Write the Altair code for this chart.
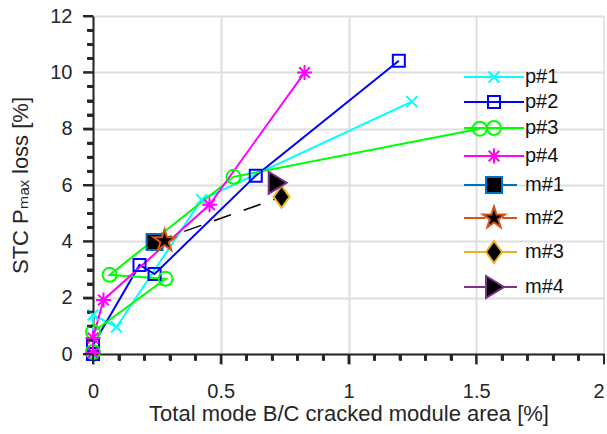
import math
import altair as alt
import pandas as pd

# ---------------- data ----------------
series = ["p#1", "p#2", "p#3", "p#4", "m#1", "m#2", "m#3", "m#4"]
line_colors = ["#00FFFF", "#0000FF", "#00FF00", "#FF00FF",
               "#0072BD", "#D95319", "#EDB120", "#7E2F8E"]
fill_colors = ["transparent"] * 4 + ["#000000"] * 4

p1_x = [0, 0, 0.092, 0.425, 1.248]
p1_y = [0, 1.39, 0.96, 5.48, 8.96]
p2_x = [0, 0, 0.182, 0.241, 0.637, 1.197]
p2_y = [0, 0.32, 3.16, 2.84, 6.33, 10.41]
p3_x = [0, 0, 0.284, 0.065, 0.55, 1.514]
p3_y = [0.07, 0.78, 2.67, 2.81, 6.29, 8.0]
p4_x = [0, 0, 0.041, 0.456, 0.828]
p4_y = [0.04, 0.57, 1.92, 5.3, 9.99]
m_x = [0.241, 0.28, 0.738, 0.719]
m_y = [3.98, 4.02, 5.58, 6.08]
dash_x = [0.241, 0.738]
dash_y = [3.98, 5.58]

x_major = [0, 0.5, 1, 1.5, 2]
x_minor = [0.1, 0.2, 0.3, 0.4, 0.6, 0.7, 0.8, 0.9, 1.1, 1.2, 1.3, 1.4,
           1.6, 1.7, 1.8, 1.9]
y_major = [0, 2, 4, 6, 8, 10, 12]
y_minor = [0.5, 1, 1.5, 2.5, 3, 3.5, 4.5, 5, 5.5, 6.5, 7, 7.5, 8.5, 9, 9.5,
           10.5, 11, 11.5]

x_title = "Total mode B/C cracked module area [%]"
y_title = "STC P\u2098\u2090\u2093 loss [%]"

# ---------------- tables ----------------
rows = []
for name, xs_, ys_ in [("p#1", p1_x, p1_y), ("p#2", p2_x, p2_y),
                       ("p#3", p3_x, p3_y), ("p#4", p4_x, p4_y)]:
    for i, (a, b) in enumerate(zip(xs_, ys_)):
        rows.append({"series": name, "idx": i, "x": a, "y": b})
p_df = pd.DataFrame(rows)
m_df = pd.DataFrame({"series": series[4:], "idx": 0, "x": m_x, "y": m_y})
pts_df = pd.concat([p_df, m_df], ignore_index=True)
dash_df = pd.DataFrame({"x": dash_x, "y": dash_y, "idx": [0, 1]})
leg_df = pd.DataFrame({"series": series, "x": 0.0, "y": 0.0})
xmaj_df = pd.DataFrame({"v": x_major})
xmin_df = pd.DataFrame({"v": x_minor})
ymaj_df = pd.DataFrame({"v": y_major})
ymin_df = pd.DataFrame({"v": y_minor})


# ---------------- marker shapes (pixel units, used with size=4) --------
def star(R, r):
    pts = []
    for i in range(10):
        a = -math.pi / 2 + i * math.pi / 5
        rad = R if i % 2 == 0 else r
        pts.append(f"{rad * math.cos(a):.2f},{rad * math.sin(a):.2f}")
    return "M" + "L".join(pts) + "Z"


def circ(r):
    return f"M{-r},0A{r},{r} 0 1,0 {r},0A{r},{r} 0 1,0 {-r},0Z"


mk = [
    "M-5.5,-5.5L5.5,5.5M-5.5,5.5L5.5,-5.5",
    "M-6,-6H6V6H-6Z",
    circ(7),
    "M-7.5,0H7.5M0,-7.5V7.5M-5.3,-5.3L5.3,5.3M-5.3,5.3L5.3,-5.3",
    "M-8,-8H8V8H-8Z",
    star(11.5, 4.4),
    "M0,-11L8,0L0,11L-8,0Z",
    "M-8,-11L10,0L-8,11Z",
]
gap = [None, None, None, None, 8, 8.5, 8, 8]
end = [30, 30, 30, 30, 23, 23, 23, 23]
leg_paths = []
for shape, g, e in zip(mk, gap, end):
    if g is None:
        leg_paths.append(f"M-30,0H{e}" + shape)
    else:
        leg_paths.append(f"M-30,0H{-g}M{g},0H{e}" + shape)

AX = "#262626"
FONT = "Liberation Sans, Arial, DejaVu Sans"
W, H = 511, 338

xs = alt.Scale(domain=[0, 2], nice=False, zero=False)
ys = alt.Scale(domain=[0, 12], nice=False, zero=False)

major_x = alt.Axis(values=x_major, format="~g", title=x_title, orient="bottom",
                   grid=True, gridColor="#dedede", gridWidth=2,
                   ticks=True, tickSize=10, tickWidth=2, tickColor=AX,
                   domainColor=AX, domainWidth=2,
                   labelFontSize=20, labelColor=AX, labelFont=FONT,
                   labelPadding=17, labelFlush=False,
                   labelAlign={"condition": {"test": "datum.value == 2", "value": "right"},
                               "value": "center"},
                   titleFontSize=22, titleColor=AX, titleFont=FONT,
                   titleFontWeight="normal", titlePadding=2)
major_y = alt.Axis(values=y_major, format="~g", title=y_title, orient="left",
                   grid=True, gridColor="#dedede", gridWidth=2,
                   ticks=True, tickSize=10, tickWidth=2, tickColor=AX,
                   domainColor=AX, domainWidth=2,
                   labelFontSize=20, labelColor=AX, labelFont=FONT,
                   labelPadding=11, labelFlush=False,
                   titleFontSize=22, titleColor=AX, titleFont=FONT,
                   titleFontWeight="normal", titlePadding=17)


def minor_x():
    return alt.Axis(values=x_minor, labels=False, title=None, orient="bottom",
                    grid=False, domain=False, ticks=True, tickSize=6,
                    tickWidth=2, tickColor=AX)


def minor_y():
    return alt.Axis(values=y_minor, labels=False, title=None, orient="left",
                    grid=False, domain=False, ticks=True, tickSize=6,
                    tickWidth=2, tickColor=AX)


stroke_sc = alt.Scale(domain=series, range=line_colors)
fill_sc = alt.Scale(domain=series, range=fill_colors)

# tick marks drawn from the tick value lists through the scales
tick_xmaj = alt.Chart(xmaj_df).mark_rule(strokeWidth=2, color=AX, clip=False).encode(
    x=alt.X("v:Q", scale=xs, axis=minor_x()),
    y=alt.value(H), y2=alt.value(H + 10))
tick_xmin = alt.Chart(xmin_df).mark_rule(strokeWidth=2, color=AX, clip=False).encode(
    x=alt.X("v:Q", scale=xs, axis=minor_x()),
    y=alt.value(H), y2=alt.value(H + 6))
tick_ymaj = alt.Chart(ymaj_df).mark_rule(strokeWidth=2, color=AX, clip=False).encode(
    y=alt.Y("v:Q", scale=ys, axis=minor_y()),
    x=alt.value(0), x2=alt.value(-10))
tick_ymin = alt.Chart(ymin_df).mark_rule(strokeWidth=2, color=AX, clip=False).encode(
    y=alt.Y("v:Q", scale=ys, axis=minor_y()),
    x=alt.value(0), x2=alt.value(-6))

lines = alt.Chart(p_df).mark_line(strokeWidth=2, clip=False).encode(
    x=alt.X("x:Q", scale=xs, axis=major_x),
    y=alt.Y("y:Q", scale=ys, axis=major_y),
    stroke=alt.Stroke("series:N", scale=stroke_sc, legend=None),
    detail="series:N",
    order="idx:Q",
)

dashed = alt.Chart(dash_df).mark_line(
    strokeWidth=1.5, color="#000000", strokeDash=[18, 13.5], clip=False
).encode(
    x=alt.X("x:Q", scale=xs, axis=minor_x()),
    y=alt.Y("y:Q", scale=ys, axis=minor_y()),
    order="idx:Q",
)

points = alt.Chart(pts_df).mark_point(size=4, strokeWidth=2, opacity=1,
                                      clip=False).encode(
    x=alt.X("x:Q", scale=xs, axis=minor_x()),
    y=alt.Y("y:Q", scale=ys, axis=minor_y()),
    stroke=alt.Stroke("series:N", scale=stroke_sc, legend=None),
    fill=alt.Fill("series:N", scale=fill_sc, legend=None),
    shape=alt.Shape("series:N", scale=alt.Scale(domain=series, range=mk),
                    legend=None),
)

leg = alt.Legend(title=None, orient="none", legendX=391, legendY=51,
                 symbolSize=4, symbolStrokeWidth=2, labelOffset=21,
                 labelFontSize=20, labelFont=FONT, labelColor="#111111",
                 rowPadding=5, padding=0, symbolOpacity=1)

legend_layer = alt.Chart(leg_df).mark_point(
    size=4, strokeWidth=2, opacity=1
).encode(
    x=alt.X("x:Q", scale=xs, axis=minor_x()),
    y=alt.Y("y:Q", scale=ys, axis=minor_y()),
    stroke=alt.Stroke("series:N", scale=alt.Scale(domain=series, range=line_colors), legend=leg),
    fill=alt.Fill("series:N", scale=alt.Scale(domain=series, range=fill_colors), legend=leg),
    shape=alt.Shape("series:N", scale=alt.Scale(domain=series, range=leg_paths), legend=leg),
).transform_filter("false")

chart = alt.layer(
    lines, dashed, points, legend_layer,
    tick_xmaj, tick_xmin, tick_ymaj, tick_ymin,
).resolve_scale(
    stroke="independent", fill="independent", shape="independent"
).resolve_axis(
    x="independent", y="independent"
).properties(
    width=W, height=H,
    padding={"left": 9, "top": 6, "right": 0, "bottom": 2},
).configure_view(stroke=None)

chart.save("out.html", embed_options={"renderer": "svg", "actions": False})
